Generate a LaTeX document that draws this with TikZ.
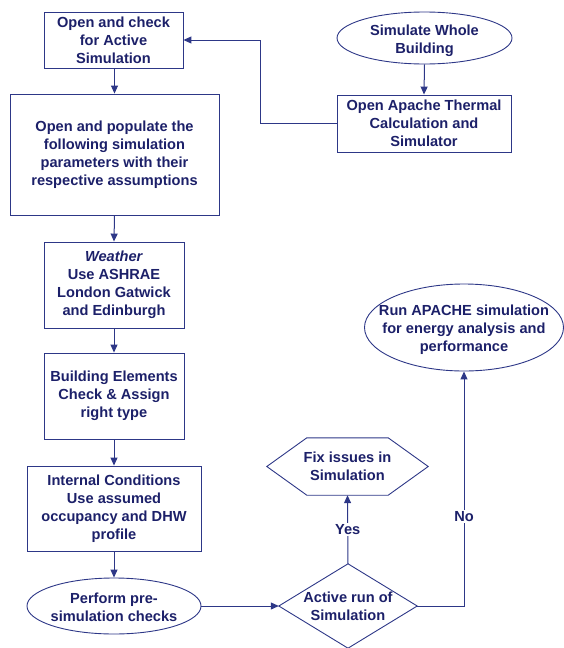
\documentclass[tikz,border=0pt]{standalone}
\usepackage{fontspec}
\setmainfont{Liberation Sans}
\usetikzlibrary{shapes.geometric,arrows.meta,calc}
\definecolor{txtc}{RGB}{28,32,105}
\definecolor{linec}{RGB}{45,55,135}
\tikzset{
  base/.style={draw=linec, line width=0.9pt, text=txtc, align=center, inner sep=0pt,
    font=\fontsize{14.6pt}{18pt}\selectfont\bfseries},
  boxn/.style={base, rectangle},
  ellipsen/.style={base, ellipse},
  plain/.style={text=txtc, align=center, inner sep=0pt,
    font=\fontsize{14.6pt}{18pt}\selectfont\bfseries},
  arr/.style={draw=linec, line width=1pt, -{Triangle[length=8pt,width=7pt]}},
  lbl/.style={plain, fill=white, inner sep=1.5pt},
}
\begin{document}
\begin{tikzpicture}[x=1pt,y=-1pt]
\useasboundingbox (0,0) rectangle (564,648);
% nodes
\node[boxn, minimum width=139, minimum height=56] (check) at (113.5,40) {Open and check\\for Active\\Simulation};
\node[ellipsen, minimum width=175, minimum height=52] (sim) at (424.5,38) {};
\node[plain] (simt) at ([yshift=-3pt]sim.center) {Simulate Whole\\Building};
\node[boxn, minimum width=174, minimum height=57] (apache) at (424,123.5) {Open Apache Thermal\\Calculation and\\Simulator};
\node[boxn, minimum width=209, minimum height=121] (populate) at (114.5,154.5) {Open and populate the\\following simulation\\parameters with their\\respective assumptions};
\node[boxn, minimum width=140, minimum height=86] (weather) at (114,285) {\textit{Weather}\\Use ASHRAE\\London Gatwick\\and Edinburgh};
\node[boxn, minimum width=140, minimum height=86] (build) at (114,396) {Building Elements\\Check \& Assign\\right type};
\node[boxn, minimum width=174, minimum height=85] (internal) at (114,508.5) {Internal Conditions\\Use assumed\\occupancy and DHW\\profile};
\node[ellipsen, minimum width=174, minimum height=56] (perform) at (114,606) {};
\node[plain] (performt) at ([yshift=-1pt]perform.center) {Perform pre-\\simulation checks};
\node[plain, minimum width=138, minimum height=84] (active) at (348,606) {Active run of\\Simulation};
\draw[draw=linec, line width=0.9pt] (active.west) -- (active.north) -- (active.east) -- (active.south) -- cycle;
\node[plain, minimum width=161, minimum height=57] (fix) at (347.5,466.5) {Fix issues in\\Simulation};
\draw[draw=linec, line width=0.9pt] (fix.west) -- ([xshift=40pt]fix.north west) -- ([xshift=-40pt]fix.north east) -- (fix.east) -- ([xshift=-40pt]fix.south east) -- ([xshift=40pt]fix.south west) -- cycle;
\node[ellipsen, minimum width=199, minimum height=87] (run) at (464,327.5) {};
\node[plain] (runt) at ([yshift=-2pt]run.center) {Run APACHE simulation\\for energy analysis and\\performance};
% connectors
\coordinate (elbow) at (260,40);
\draw[arr] (sim.south) -- (apache.north);
\draw[arr] (apache.west) -| (elbow) -- (check.east);
\draw[arr] (check.south -| populate.north) -- (populate.north);
\draw[arr] (populate.south) -- (weather.north);
\draw[arr] (weather.south) -- (build.north);
\draw[arr] (build.south) -- (internal.north);
\draw[arr] (internal.south) -- (perform.north);
\draw[arr] (perform.east) -- (active.west);
\draw[arr] (active.north) -- node[lbl] {Yes} (fix.south);
\draw[arr] (active.east) -| node[lbl, pos=0.69] {No} (run.south);
\end{tikzpicture}
\end{document}
